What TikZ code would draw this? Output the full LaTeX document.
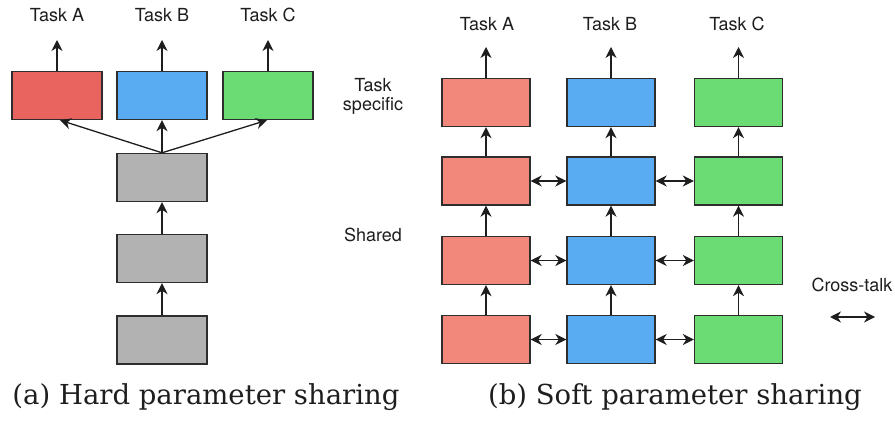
\documentclass[tikz,border=0pt]{standalone}
\usepackage{fontspec}
\newfontfamily\labfont{TeX Gyre Heros}
\newfontfamily\capfont{DejaVu Serif}
\usetikzlibrary{arrows.meta}

\definecolor{hardred}{HTML}{E9645E}
\definecolor{softred}{HTML}{F2887B}
\definecolor{blk}{HTML}{5AACF2}
\definecolor{grn}{HTML}{6BDB74}
\definecolor{gry}{HTML}{B2B2B2}
\definecolor{edge}{HTML}{2E2E2E}
\definecolor{ink}{HTML}{1E1E1E}

\tikzset{
  layer/.style={draw=edge, line width=1.4pt, minimum width=88pt, minimum height=48pt, inner sep=0pt},
  lab/.style={font=\labfont\fontsize{18}{21}\selectfont, text=ink, inner sep=0pt, align=center},
  captext/.style={font=\capfont\fontsize{27.5}{32}\selectfont, text=ink, inner sep=0pt},
  flow/.style={-{Stealth[length=11pt,width=11pt,inset=3.5pt]}, line width=1.3pt, draw=ink},
  talk/.style={{Stealth[length=11pt,width=11pt,inset=3.5pt]}-{Stealth[length=11pt,width=11pt,inset=3.5pt]}, line width=1.3pt, draw=ink},
}

\begin{document}
\begin{tikzpicture}[x=1pt,y=-1pt]
\useasboundingbox[fill=white] (0,0) rectangle (895,425);

% ---- (a) hard parameter sharing ----
\node[layer, fill=hardred, minimum width=90pt] (ha) at (57,95.5) {};
\node[layer, fill=blk, minimum width=90pt] (hb) at (162,95.5) {};
\node[layer, fill=grn, minimum width=90pt] (hc) at (268,95.5) {};
\node[layer, fill=gry, minimum width=90pt] (s1) at (162,177.5) {};
\node[layer, fill=gry, minimum width=90pt] (s2) at (162,258.5) {};
\node[layer, fill=gry, minimum width=90pt] (s3) at (162,340) {};

\node[lab] (tA) at (57,15) {Task A};
\node[lab] (tB) at (162,15) {Task B};
\node[lab] (tC) at (268,15) {Task C};
\coordinate (oA) at (57,40);
\coordinate (oB) at (162,40);
\coordinate (oC) at (268,40);

\draw[flow] (ha.north) -- (oA);
\draw[flow] (hb.north) -- (oB);
\draw[flow] (hc.north) -- (oC);
\draw[flow] (s1.north) -- ([xshift=3pt]ha.south);
\draw[flow] (s1.north) -- (hb.south);
\draw[flow] (s1.north) -- ([xshift=-1pt]hc.south);
\draw[flow] (s2.north) -- (s1.south);
\draw[flow] (s3.north) -- (s2.south);

\node[lab] (ts) at (373,96) {Task\\[-2pt]specific};
\node[lab] (sh) at (373,235) {Shared};

\node[captext] (capa) at (206,397) {(a) Hard parameter sharing};

% ---- (b) soft parameter sharing ----
\foreach \r/\y in {1/102.5,2/181,3/260.5,4/339.5}{
  \node[layer, fill=softred] (r\r) at (486,\y) {};
  \node[layer, fill=blk] (b\r) at (611,\y) {};
  \node[layer, fill=grn] (g\r) at (738.5,\y) {};
}

\node[lab] (uA) at (487,24) {Task A};
\node[lab] (uB) at (610,24) {Task B};
\node[lab] (uC) at (737,24) {Task C};
\coordinate (pA) at (486,47);
\coordinate (pB) at (611,47);
\coordinate (pC) at (738.5,47);

\draw[flow] (r1.north) -- (pA);
\draw[flow] (b1.north) -- (pB);
\draw[flow] (g1.north) -- (pC);

\foreach \lo/\hi in {2/1,3/2,4/3}{
  \draw[flow] (r\lo.north) -- (r\hi.south);
  \draw[flow] (b\lo.north) -- (b\hi.south);
  \draw[flow] (g\lo.north) -- (g\hi.south);
}

\foreach \r in {2,3,4}{
  \draw[talk] (r\r.east) -- (b\r.west);
  \draw[talk] (b\r.east) -- (g\r.west);
}

\node[lab] (ct) at (852,285) {Cross-talk};
\coordinate (kL) at (830,317);
\coordinate (kR) at (875,317);
\draw[talk] (kL) -- (kR);

\node[captext] (capb) at (675,397) {(b) Soft parameter sharing};
\end{tikzpicture}
\end{document}
